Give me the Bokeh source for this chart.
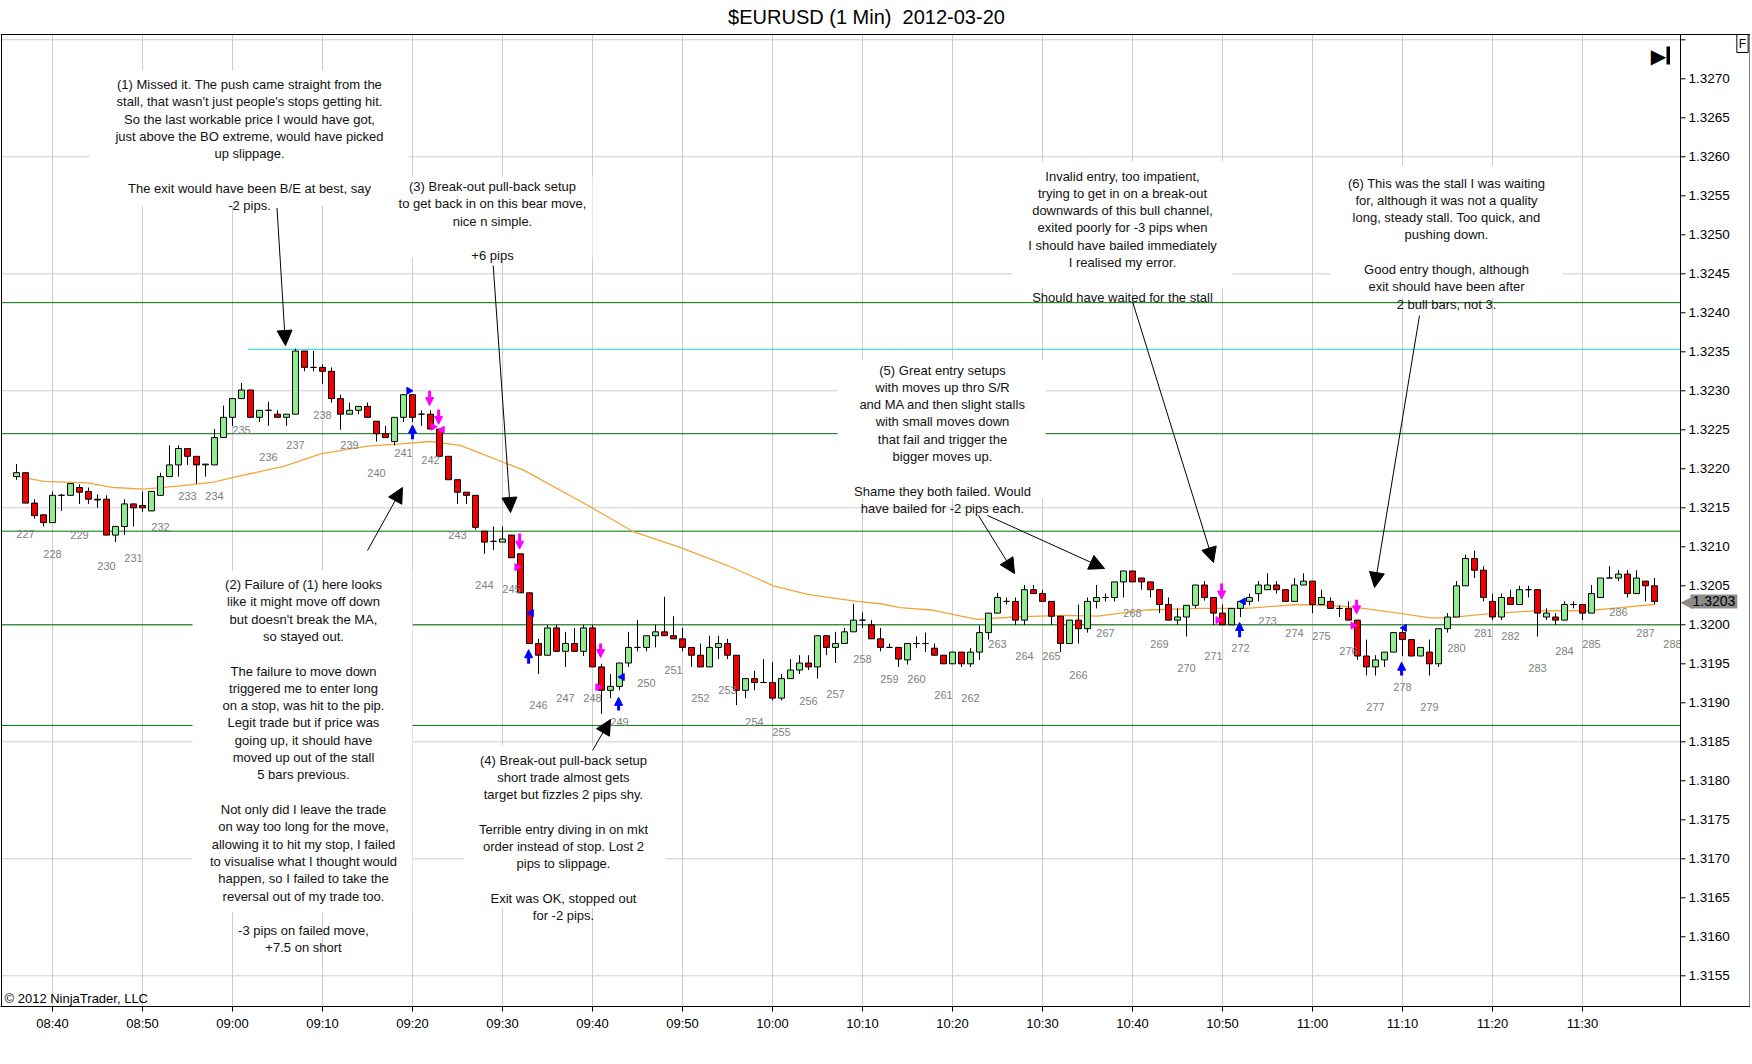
import math
from bokeh.plotting import figure
from bokeh.models import (ColumnDataSource, FixedTicker, Label, BoxAnnotation, Arrow,
                          NormalHead, Range1d)
from bokeh.core.properties import value
from bokeh.embed import file_html
from bokeh.resources import INLINE

# ---------------- data (1-minute bars, first bar 08:36) ----------------
bar_open = [
    1.32190, 1.32195, 1.32156, 1.32141, 1.32131, 1.32166, 1.32166, 1.32176, 1.32171, 1.32161,
    1.32161, 1.32115, 1.32126, 1.32155, 1.32153, 1.32146, 1.32166, 1.32190, 1.32205, 1.32226,
    1.32216, 1.32205, 1.32205, 1.32240, 1.32266, 1.32290, 1.32301, 1.32266, 1.32275, 1.32270,
    1.32266, 1.32270, 1.32351, 1.32330, 1.32330, 1.32325, 1.32290, 1.32270, 1.32275, 1.32280,
    1.32261, 1.32245, 1.32235, 1.32266, 1.32295, 1.32270, 1.32270, 1.32251, 1.32216, 1.32186,
    1.32170, 1.32166, 1.32120, 1.32107, 1.32106, 1.32115, 1.32091, 1.32041, 1.31976, 1.31961,
    1.31996, 1.31966, 1.31976, 1.31966, 1.31996, 1.31946, 1.31916, 1.31921, 1.31951, 1.31971,
    1.31971, 1.31986, 1.31991, 1.31986, 1.31982, 1.31971, 1.31961, 1.31946, 1.31971, 1.31976,
    1.31961, 1.31916, 1.31931, 1.31926, 1.31926, 1.31906, 1.31931, 1.31942, 1.31951, 1.31946,
    1.31986, 1.31971, 1.31976, 1.31991, 1.32006, 1.32000, 1.31982, 1.31971, 1.31971, 1.31955,
    1.31976, 1.31976, 1.31970, 1.31961, 1.31950, 1.31965, 1.31950, 1.31965, 1.31990, 1.32015,
    1.32030, 1.32030, 1.32006, 1.32045, 1.32040, 1.32030, 1.32011, 1.31976, 1.32006, 1.31995,
    1.32030, 1.32035, 1.32035, 1.32055, 1.32069, 1.32060, 1.32055, 1.32045, 1.32026, 1.32006,
    1.32010, 1.32025, 1.32051, 1.32035, 1.32015, 1.32000, 1.32021, 1.32030, 1.32040, 1.32045,
    1.32051, 1.32045, 1.32030, 1.32051, 1.32056, 1.32026, 1.32030, 1.32021, 1.32021, 1.32006,
    1.31960, 1.31946, 1.31955, 1.31965, 1.31990, 1.31981, 1.31960, 1.31965, 1.31950, 1.31995,
    1.32010, 1.32050, 1.32085, 1.32070, 1.32030, 1.32010, 1.32035, 1.32026, 1.32045, 1.32045,
    1.32010, 1.32010, 1.32006, 1.32026, 1.32026, 1.32015, 1.32035, 1.32060, 1.32060, 1.32065,
    1.32040, 1.32056, 1.32050,
]
bar_high = [
    1.32206, 1.32195, 1.32161, 1.32141, 1.32171, 1.32168, 1.32181, 1.32180, 1.32176, 1.32167,
    1.32166, 1.32127, 1.32161, 1.32155, 1.32171, 1.32171, 1.32195, 1.32230, 1.32230, 1.32226,
    1.32216, 1.32206, 1.32251, 1.32281, 1.32290, 1.32310, 1.32301, 1.32275, 1.32286, 1.32275,
    1.32270, 1.32354, 1.32351, 1.32351, 1.32334, 1.32330, 1.32295, 1.32285, 1.32280, 1.32285,
    1.32261, 1.32255, 1.32266, 1.32295, 1.32295, 1.32275, 1.32275, 1.32251, 1.32216, 1.32186,
    1.32170, 1.32166, 1.32120, 1.32126, 1.32126, 1.32115, 1.32091, 1.32041, 1.31982, 1.32000,
    1.32000, 1.31991, 1.31996, 1.32000, 1.32000, 1.31950, 1.31937, 1.31951, 1.31991, 1.32006,
    1.31986, 1.32000, 1.32036, 1.32011, 1.31996, 1.31971, 1.31976, 1.31986, 1.31986, 1.31982,
    1.31961, 1.31931, 1.31941, 1.31956, 1.31952, 1.31937, 1.31956, 1.31961, 1.31961, 1.31986,
    1.31986, 1.31991, 1.31996, 1.32027, 1.32016, 1.32006, 1.31996, 1.31976, 1.31971, 1.31976,
    1.31985, 1.31990, 1.31976, 1.31961, 1.31965, 1.31965, 1.31970, 1.31999, 1.32015, 1.32041,
    1.32035, 1.32035, 1.32051, 1.32051, 1.32045, 1.32030, 1.32011, 1.32006, 1.32026, 1.32035,
    1.32051, 1.32040, 1.32055, 1.32069, 1.32069, 1.32060, 1.32055, 1.32045, 1.32035, 1.32021,
    1.32025, 1.32051, 1.32056, 1.32035, 1.32026, 1.32021, 1.32030, 1.32040, 1.32056, 1.32066,
    1.32056, 1.32045, 1.32060, 1.32066, 1.32056, 1.32045, 1.32035, 1.32025, 1.32030, 1.32006,
    1.31981, 1.31961, 1.31965, 1.31990, 1.31997, 1.31981, 1.31971, 1.31981, 1.31995, 1.32015,
    1.32056, 1.32090, 1.32095, 1.32075, 1.32040, 1.32040, 1.32045, 1.32050, 1.32050, 1.32045,
    1.32021, 1.32015, 1.32030, 1.32030, 1.32026, 1.32051, 1.32060, 1.32075, 1.32070, 1.32070,
    1.32070, 1.32056, 1.32060,
]
bar_low = [
    1.32186, 1.32156, 1.32136, 1.32126, 1.32131, 1.32146, 1.32166, 1.32155, 1.32155, 1.32150,
    1.32115, 1.32106, 1.32115, 1.32126, 1.32145, 1.32146, 1.32166, 1.32190, 1.32190, 1.32205,
    1.32181, 1.32190, 1.32205, 1.32240, 1.32255, 1.32290, 1.32266, 1.32260, 1.32255, 1.32266,
    1.32255, 1.32270, 1.32325, 1.32325, 1.32309, 1.32285, 1.32250, 1.32270, 1.32270, 1.32266,
    1.32235, 1.32240, 1.32230, 1.32260, 1.32260, 1.32255, 1.32251, 1.32216, 1.32186, 1.32155,
    1.32155, 1.32122, 1.32091, 1.32096, 1.32106, 1.32086, 1.32041, 1.31976, 1.31937, 1.31961,
    1.31966, 1.31946, 1.31966, 1.31960, 1.31946, 1.31886, 1.31906, 1.31916, 1.31946, 1.31966,
    1.31966, 1.31971, 1.31986, 1.31982, 1.31966, 1.31946, 1.31946, 1.31946, 1.31956, 1.31956,
    1.31897, 1.31906, 1.31916, 1.31926, 1.31903, 1.31903, 1.31931, 1.31937, 1.31942, 1.31931,
    1.31961, 1.31951, 1.31976, 1.31991, 1.31996, 1.31982, 1.31966, 1.31971, 1.31946, 1.31949,
    1.31970, 1.31965, 1.31961, 1.31950, 1.31950, 1.31946, 1.31946, 1.31955, 1.31981, 1.32015,
    1.32026, 1.32000, 1.32000, 1.32040, 1.32030, 1.32000, 1.31965, 1.31976, 1.31976, 1.31990,
    1.32021, 1.32030, 1.32030, 1.32035, 1.32055, 1.32045, 1.32035, 1.32015, 1.32006, 1.32000,
    1.31985, 1.32021, 1.32031, 1.32000, 1.32000, 1.32000, 1.32010, 1.32025, 1.32030, 1.32045,
    1.32040, 1.32030, 1.32030, 1.32051, 1.32015, 1.32026, 1.32021, 1.32010, 1.32006, 1.31955,
    1.31935, 1.31935, 1.31946, 1.31965, 1.31960, 1.31960, 1.31960, 1.31935, 1.31946, 1.31990,
    1.32010, 1.32050, 1.32060, 1.32030, 1.32006, 1.32006, 1.32026, 1.32026, 1.32035, 1.31985,
    1.32006, 1.32000, 1.32006, 1.32021, 1.32006, 1.32015, 1.32035, 1.32060, 1.32056, 1.32035,
    1.32040, 1.32030, 1.32026,
]
bar_close = [
    1.32195, 1.32156, 1.32140, 1.32131, 1.32166, 1.32166, 1.32181, 1.32170, 1.32161, 1.32160,
    1.32115, 1.32126, 1.32155, 1.32150, 1.32150, 1.32171, 1.32190, 1.32205, 1.32226, 1.32216,
    1.32205, 1.32206, 1.32240, 1.32266, 1.32290, 1.32301, 1.32266, 1.32275, 1.32275, 1.32266,
    1.32270, 1.32351, 1.32330, 1.32330, 1.32325, 1.32290, 1.32270, 1.32275, 1.32280, 1.32266,
    1.32245, 1.32240, 1.32266, 1.32295, 1.32266, 1.32270, 1.32251, 1.32216, 1.32186, 1.32170,
    1.32166, 1.32125, 1.32106, 1.32107, 1.32110, 1.32086, 1.32041, 1.31976, 1.31961, 1.31996,
    1.31966, 1.31976, 1.31966, 1.31996, 1.31946, 1.31916, 1.31921, 1.31951, 1.31971, 1.31971,
    1.31986, 1.31991, 1.31986, 1.31982, 1.31971, 1.31961, 1.31946, 1.31971, 1.31976, 1.31961,
    1.31916, 1.31931, 1.31926, 1.31926, 1.31906, 1.31931, 1.31942, 1.31951, 1.31946, 1.31986,
    1.31971, 1.31976, 1.31991, 1.32006, 1.32006, 1.31982, 1.31971, 1.31971, 1.31956, 1.31976,
    1.31976, 1.31976, 1.31961, 1.31950, 1.31965, 1.31950, 1.31965, 1.31990, 1.32015, 1.32035,
    1.32030, 1.32006, 1.32045, 1.32040, 1.32030, 1.32011, 1.31976, 1.32006, 1.31995, 1.32030,
    1.32035, 1.32035, 1.32055, 1.32069, 1.32055, 1.32055, 1.32045, 1.32026, 1.32006, 1.32010,
    1.32025, 1.32051, 1.32035, 1.32015, 1.32000, 1.32021, 1.32030, 1.32035, 1.32051, 1.32051,
    1.32045, 1.32030, 1.32051, 1.32056, 1.32026, 1.32035, 1.32021, 1.32021, 1.32006, 1.31960,
    1.31946, 1.31955, 1.31965, 1.31990, 1.31981, 1.31960, 1.31971, 1.31950, 1.31995, 1.32010,
    1.32050, 1.32085, 1.32070, 1.32035, 1.32010, 1.32035, 1.32026, 1.32045, 1.32045, 1.32015,
    1.32015, 1.32006, 1.32026, 1.32026, 1.32015, 1.32040, 1.32060, 1.32060, 1.32065, 1.32040,
    1.32060, 1.32050, 1.32030,
]
bar_slot = list(range(-4, 179))          # bar position, 0 = 08:40

# moving average (slot, price)
ma_slot = [-4.1, -1.0, 3.9, 6.8, 10.1, 14.2, 17.9, 20.1, 25.7, 29.8, 35.0, 38.7, 42.0, 45.3,
           52.4, 59.8, 64.6, 69.8, 75.0, 80.1, 83.9, 89.4, 92.0, 94.2, 97.6, 102.7, 106.8,
           112.4, 116.1, 121.6, 127.2, 132.7, 138.3, 143.1, 145.0, 150.1, 153.1, 155.0,
           159.4, 165.0, 170.5, 174.2, 177.9]
ma_price = [1.32191, 1.32184, 1.32182, 1.32176, 1.32174, 1.32178, 1.32183, 1.32189, 1.32203,
            1.32219, 1.32229, 1.32232, 1.32235, 1.32230, 1.32198, 1.32151, 1.32119, 1.32099,
            1.32076, 1.32050, 1.32039, 1.32030, 1.32027, 1.32022, 1.32019, 1.32007, 1.32010,
            1.32012, 1.32011, 1.32019, 1.32021, 1.32021, 1.32026, 1.32024, 1.32022, 1.32014,
            1.32009, 1.32009, 1.32014, 1.32018, 1.32018, 1.32022, 1.32026]

# support / resistance levels
green_levels = [1.32413, 1.32245, 1.32120, 1.32000, 1.31871]
cyan_level = 1.32353
cyan_start_slot = 21.7

# bar numbers (every third bar)
bar_numbers = list(range(227, 289))
bar_number_slot = [-3 + 3 * k for k in range(len(bar_numbers))]
last_number_price = 1.31976

# axes
time_tick_slot = [0, 10, 20, 30, 40, 50, 60, 70, 80, 90, 100, 110, 120, 130, 140, 150, 160, 170]
time_labels = ["08:40", "08:50", "09:00", "09:10", "09:20", "09:30", "09:40", "09:50", "10:00",
               "10:10", "10:20", "10:30", "10:40", "10:50", "11:00", "11:10", "11:20", "11:30"]
price_ticks = [1.3155, 1.3160, 1.3165, 1.3170, 1.3175, 1.3180, 1.3185, 1.3190, 1.3195, 1.3200,
               1.3205, 1.3210, 1.3215, 1.3220, 1.3225, 1.3230, 1.3235, 1.3240, 1.3245, 1.3250,
               1.3255, 1.3260, 1.3265, 1.3270]
price_grid = [1.3155, 1.3170, 1.3185, 1.3200, 1.3215, 1.3230, 1.3245, 1.3260, 1.3275]

# trade markers
entry_arrow_slot = [40.0, 52.9, 62.9, 131.9, 149.9]
entry_arrow_tail = [1.32238, 1.31950, 1.31890, 1.31984, 1.31935]
entry_arrow_tip = [1.32256, 1.31968, 1.31907, 1.32003, 1.31952]
exit_arrow_slot = [41.9, 42.9, 51.9, 60.9, 129.9, 144.9]
exit_arrow_tail = [1.32300, 1.32276, 1.32117, 1.31976, 1.32053, 1.32032]
exit_arrow_tip = [1.32281, 1.32257, 1.32097, 1.31958, 1.32033, 1.32014]
entry_fill_right_slot = [39.6]
entry_fill_right_price = [1.32300]
entry_fill_left_slot = [53.2, 63.3, 132.3, 150.2]
entry_fill_left_price = [1.32015, 1.31933, 1.32030, 1.31996]
exit_fill_right_slot = [42.3, 51.6, 60.6, 129.5, 144.5]
exit_fill_right_price = [1.32254, 1.32074, 1.31920, 1.32006, 1.31999]
exit_fill_left_slot = [43.3]
exit_fill_left_price = [1.32250]

last_price_text = "1.3203"
last_price = 1.32030
chart_title = "$EURUSD (1 Min)\u00a0 2012-03-20"

# ---------------- layout helpers (screen pixel -> data) ----------------
def X(px):
    return (px - 52) / 9.0


def Y(py):
    return 1.3200 + (624.3 - py) / 78000.0


FONT = "Liberation Sans"
UP = "#90EE90"
DOWN = "#F00000"
GRID = "#CCCCCC"
W, H = 1750, 1062

p = figure(width=W, height=H, title=None,
           x_range=Range1d(X(0), X(W)), y_range=Range1d(Y(1006), Y(0)),
           output_backend="svg", toolbar_location=None, y_axis_location=None,
           min_border_left=0, min_border_right=0, min_border_top=0, min_border_bottom=56)
p.background_fill_color = "white"
p.border_fill_color = "white"
p.outline_line_color = None
p.grid.visible = False

# time axis (bottom)
p.xaxis.ticker = FixedTicker(ticks=time_tick_slot)
p.xaxis.major_label_overrides = {t: lab for t, lab in zip(time_tick_slot, time_labels)}
p.xaxis.axis_line_color = "black"
p.xaxis.major_tick_line_color = "black"
p.xaxis.major_tick_in = 0
p.xaxis.major_tick_out = 5
p.xaxis.minor_tick_line_color = None
p.xaxis.major_label_text_font = FONT
p.xaxis.major_label_text_font_size = "13px"
p.xaxis.major_label_text_color = "black"
p.xaxis.major_label_standoff = 4

# grid
x_lo, x_hi = X(1), X(1680)
p.segment(x0=time_tick_slot, x1=time_tick_slot, y0=[Y(34)] * len(time_tick_slot),
          y1=[Y(1006)] * len(time_tick_slot), line_color=GRID, line_width=1)
p.segment(x0=[x_lo] * len(price_grid), x1=[x_hi] * len(price_grid), y0=price_grid,
          y1=price_grid, line_color=GRID, line_width=1)

# level lines
p.segment(x0=[x_lo] * len(green_levels), x1=[x_hi] * len(green_levels),
          y0=green_levels, y1=green_levels, line_color="#007000", line_width=1)
p.segment(x0=[cyan_start_slot], x1=[x_hi], y0=[cyan_level], y1=[cyan_level],
          line_color="#40E0E8", line_width=1.2)

# moving average
p.line(ma_slot, ma_price, line_color="#F2A53A", line_width=1.3)

# candles
src = ColumnDataSource(dict(
    x=bar_slot, high=bar_high, low=bar_low,
    top=[max(o, c) for o, c in zip(bar_open, bar_close)],
    bottom=[min(o, c) for o, c in zip(bar_open, bar_close)],
    color=[UP if c >= o else DOWN for o, c in zip(bar_open, bar_close)],
))
p.segment(x0="x", y0="low", x1="x", y1="high", line_color="black", line_width=1, source=src)
p.vbar(x="x", width=0.66, top="top", bottom="bottom", fill_color="color",
       line_color="black", line_width=1, source=src)

# bar number labels: 4 pips under the bar low
low_by_slot = dict(zip(bar_slot, bar_low))
num_y = [low_by_slot[s] - 0.0004 if s in low_by_slot else last_number_price
         for s in bar_number_slot]
p.text(x=bar_number_slot, y=num_y, text=[str(n) for n in bar_numbers],
       text_font=value(FONT), text_font_size="11px", text_color="#808080",
       text_align="center", text_baseline="middle")

# trade fill markers
BLUE = "#0000FF"
MAG = "#FF00FF"
p.scatter(entry_fill_right_slot, entry_fill_right_price, marker="triangle", size=7,
          angle=-math.pi / 2, fill_color=BLUE, line_color=BLUE)
p.scatter(entry_fill_left_slot, entry_fill_left_price, marker="triangle", size=7,
          angle=math.pi / 2, fill_color=BLUE, line_color=BLUE)
p.scatter(exit_fill_right_slot, exit_fill_right_price, marker="triangle", size=7,
          angle=-math.pi / 2, fill_color=MAG, line_color=MAG)
p.scatter(exit_fill_left_slot, exit_fill_left_price, marker="triangle", size=7,
          angle=math.pi / 2, fill_color=MAG, line_color=MAG)

# frame lines and price axis (right)
p.segment(x0=[X(0), X(1), X(1680), X(1749.5)], x1=[X(W), X(1), X(1680), X(1749.5)],
          y0=[Y(34), Y(34), Y(34), Y(34)], y1=[Y(34), Y(1006), Y(1006), Y(1006)],
          line_color="black", line_width=1)
tick_prices = price_ticks + [1.3275]
p.segment(x0=[X(1680)] * len(tick_prices), x1=[X(1685)] * len(tick_prices),
          y0=tick_prices, y1=tick_prices, line_color="black", line_width=1)
p.text(x=[X(1688)] * len(price_ticks), y=price_ticks, text=["%.4f" % v for v in price_ticks],
       text_font=value(FONT), text_font_size="13.5px", text_color="black",
       text_align="left", text_baseline="middle")

p.add_layout(Arrow(end=NormalHead(size=8, fill_color=BLUE, line_color=BLUE),
                   source=ColumnDataSource(dict(x=entry_arrow_slot, y0=entry_arrow_tail,
                                                y1=entry_arrow_tip)),
                   x_start="x", y_start="y0", x_end="x", y_end="y1",
                   line_color=BLUE, line_width=3))
p.add_layout(Arrow(end=NormalHead(size=8, fill_color=MAG, line_color=MAG),
                   source=ColumnDataSource(dict(x=exit_arrow_slot, y0=exit_arrow_tail,
                                                y1=exit_arrow_tip)),
                   x_start="x", y_start="y0", x_end="x", y_end="y1",
                   line_color=MAG, line_width=3))

# ---------------- annotations ----------------
notes = [
    # (left, right, top, bottom, center_x, text_top, text)
    (89, 408, 70, 205, 249, 76.5,
     "(1) Missed it. The push came straight from the\nstall, that wasn't just people's stops getting hit.\n"
     "So the last workable price I would have got,\njust above the BO extreme, would have picked\n"
     "up slippage.\n\nThe exit would have been B/E at best, say\n-2 pips."),
    (392, 592, 176, 257, 492, 178.5,
     "(3) Break-out pull-back setup\nto get back in on this bear move,\nnice n simple.\n\n+6 pips"),
    (192, 412, 570, 912, 303, 576.5,
     "(2) Failure of (1) here looks\nlike it might move off down\nbut doesn't break the MA,\nso stayed out.\n\n"
     "The failure to move down\ntriggered me to enter long\non a stop, was hit to the pip.\n"
     "Legit trade but if price was\ngoing up, it should have\nmoved up out of the stall\n5 bars previous.\n\n"
     "Not only did I leave the trade\non way too long for the move,\nallowing it to hit my stop, I failed\n"
     "to visualise what I thought would\nhappen, so I failed to take the\nreversal out of my trade too.\n\n"
     "-3 pips on failed move,\n+7.5 on short"),
    (463, 665, 745, 908, 563, 752,
     "(4) Break-out pull-back setup\nshort trade almost gets\ntarget but fizzles 2 pips shy.\n\n"
     "Terrible entry diving in on mkt\norder instead of stop. Lost 2\npips to slippage.\n\n"
     "Exit was OK, stopped out\nfor -2 pips."),
    (1012, 1232, 161, 287, 1122, 168,
     "Invalid entry, too impatient,\ntrying to get in on a break-out\ndownwards of this bull channel,\n"
     "exited poorly for -3 pips when\nI should have bailed immediately\nI realised my error.\n\n"
     "Should have waited for the stall"),
    (837, 1045, 360, 498, 942, 362,
     "(5) Great entry setups\nwith moves up thro S/R\nand MA and then slight stalls\nwith small moves down\n"
     "that fail and trigger the\nbigger moves up.\n\nShame they both failed. Would\n"
     "have bailed for -2 pips each."),
    (1330, 1562, 165, 297, 1446, 175,
     "(6) This was the stall I was waiting\nfor, although it was not a quality\n"
     "long, steady stall. Too quick, and\npushing down.\n\nGood entry though, although\n"
     "exit should have been after\n2 bull bars, not 3."),
]
for (l, r, t, b, cx, ty, txt) in notes:
    p.add_layout(BoxAnnotation(left=X(l), right=X(r), top=Y(t), bottom=Y(b),
                               fill_color="white", fill_alpha=1.0, line_color=None))

pointers = [
    ((276.5, 207.5), (285, 345)),
    ((367, 550), (402, 487)),
    ((492.7, 265), (510, 512)),
    ((592, 750), (610, 719)),
    ((978, 515), (1014, 573)),
    ((987, 515), (1104, 568)),
    ((1132, 301), (1213, 562)),
    ((1419, 315), (1374, 587)),
]
for (sx, sy), (ex, ey) in pointers:
    p.add_layout(Arrow(end=NormalHead(size=15, fill_color="black", line_color="black"),
                       x_start=X(sx), y_start=Y(sy), x_end=X(ex), y_end=Y(ey),
                       line_color="black", line_width=1))

for (l, r, t, b, cx, ty, txt) in notes:
    p.add_layout(Label(x=X(cx), y=Y(ty), text=txt, text_align="center", text_baseline="top",
                       text_font=FONT, text_font_size="13px", text_color="#111111",
                       text_line_height=15.0 / 13.0))

# title, copyright, icons, last price
p.add_layout(Label(x=X(866), y=Y(16), text=chart_title, text_align="center",
                   text_baseline="middle", text_font=FONT, text_font_size="20px",
                   text_color="black"))
p.add_layout(Label(x=X(4), y=Y(998), text="\u00a9 2012 NinjaTrader, LLC", text_align="left",
                   text_baseline="middle", text_font=FONT, text_font_size="13px",
                   text_color="black"))
p.add_layout(Label(x=X(1658), y=Y(55), text="\u25b6", text_align="center",
                   text_baseline="middle", text_font="DejaVu Sans", text_font_size="20px",
                   text_color="black"))
p.add_layout(BoxAnnotation(left=X(1666), right=X(1669.5), top=Y(46), bottom=Y(64),
                           fill_color="black", fill_alpha=1.0, line_color=None))
p.add_layout(Label(x=X(1742), y=Y(43), text="F", text_align="center", text_baseline="middle",
                   text_font=FONT, text_font_size="12px", text_color="black",
                   border_line_color="black", background_fill_color="white", padding=2))
p.add_layout(Label(x=X(1692), y=last_price, text="\u25c0", text_align="right",
                   text_baseline="middle", text_font="DejaVu Sans", text_font_size="16px",
                   text_color="#8C8C8C"))
p.add_layout(Label(x=X(1690), y=last_price, text=last_price_text, text_align="left",
                   text_baseline="middle", text_font=FONT, text_font_size="14px",
                   text_color="black", background_fill_color="#8C8C8C", padding=2))

open("out.html", "w").write(file_html(p, INLINE))
